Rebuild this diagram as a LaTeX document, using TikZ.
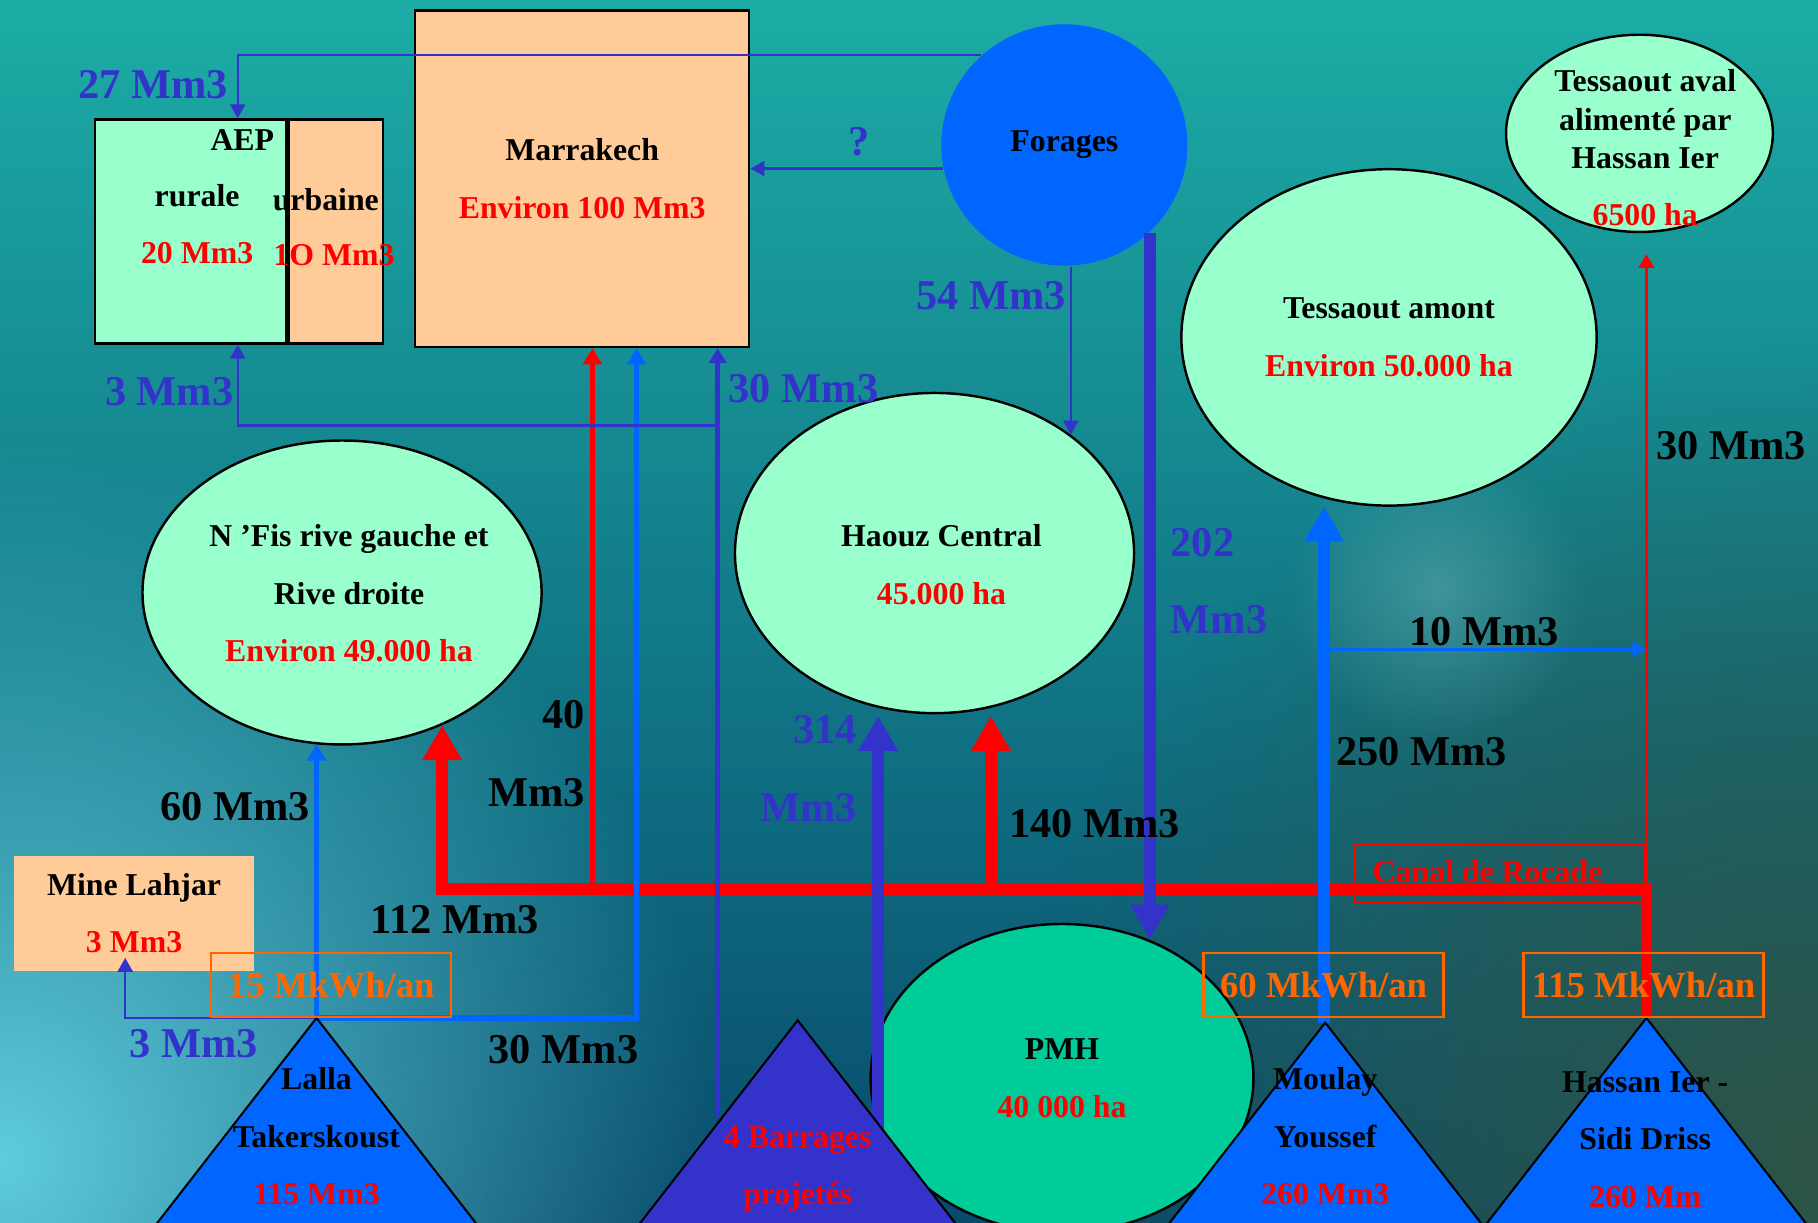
\documentclass[tikz,border=0pt]{standalone}
\usepackage{fontspec}
\setmainfont{Liberation Serif}
\usetikzlibrary{shapes.geometric,arrows.meta,fadings}

\definecolor{flowviolet}{RGB}{51,51,204}
\definecolor{flowblue}{RGB}{0,102,255}
\definecolor{flowred}{RGB}{255,0,0}
\definecolor{kwhorange}{RGB}{255,102,0}
\definecolor{zonegreen}{RGB}{153,255,204}
\definecolor{cityorange}{RGB}{255,204,153}
\definecolor{pmhgreen}{RGB}{0,204,153}
\definecolor{bgtop}{RGB}{28,172,165}
\definecolor{bgmid}{RGB}{36,145,152}
\definecolor{bgbot}{RGB}{8,74,108}
\definecolor{glowcyan}{RGB}{95,205,220}
\definecolor{glowdark}{RGB}{45,85,70}

\tikzfading[name=glow, inner color=transparent!0, outer color=transparent!100]

\begin{document}
\begin{tikzpicture}[x=0.01cm, y=-0.01cm,
% common options for the irrigated zones:
zone/.style = {ellipse, draw=black, line width=0.6pt, fill=zonegreen, align=center,
            inner sep=0, font=\fontsize{7.8}{14.1}\selectfont\bfseries},
% common options for the boxes:
block/.style = {rectangle, draw=black, line width=0.6pt, anchor=north west, align=center,
            inner sep=0, font=\fontsize{7.8}{14.1}\selectfont\bfseries},
% dams:
dam/.style = {draw=black, line width=0.5pt, fill=flowblue},
% texts:
txt/.style = {font=\fontsize{7.8}{14.1}\selectfont\bfseries, align=center, inner sep=0},
qty/.style = {font=\fontsize{10.4}{19}\selectfont\bfseries, inner sep=0},
kwh/.style = {draw=kwhorange, line width=0.6pt, text=kwhorange, anchor=north west,
            font=\fontsize{9}{11}\selectfont\bfseries, minimum width=2.07cm,
            minimum height=0.55cm, inner sep=0},
% flows:
fin/.style = {line width=0.55pt, -{Triangle[length=0.12cm,width=0.13cm]}},
fmid/.style = {line width=1.4pt, -{Triangle[length=0.14cm,width=0.16cm]}},
fbig/.style = {line width=2.85pt, -{Triangle[length=0.3cm,width=0.32cm]}}]
\useasboundingbox (0,0) rectangle (1568,1054);
\clip (0,0) rectangle (1568,1054);
% background
\shade[top color=bgtop, middle color=bgmid, bottom color=bgbot] (0,0) rectangle (1568,1054);
\fill[glowcyan, path fading=glow] (0,1000) circle (620);
\fill[glowdark, path fading=glow] (1568,1000) circle (700);
\fill[white!35!bgmid, path fading=glow, fill opacity=0.45] (1240,510) circle (130);
% zones
\node[zone, fill=flowblue, draw=none, minimum width=2.12cm, minimum height=2.08cm] (forages) at (918,125) {Forages};
\node[zone, minimum width=3.58cm, minimum height=2.90cm] (tam) at (1198,291) {Tessaout amont\\\textcolor{flowred}{Environ 50.000 ha}};
\node[zone, minimum width=2.30cm, minimum height=1.70cm] (tav) at (1414,115) {};
\node[zone, minimum width=3.44cm, minimum height=2.76cm] (haouz) at (806,477) {};
\node[zone, minimum width=3.44cm, minimum height=2.62cm] (nfis) at (295,511) {};
\node[zone, fill=pmhgreen, minimum width=3.30cm, minimum height=2.66cm] (pmh) at (916,930) {PMH\\\textcolor{flowred}{40 000 ha}};
% boxes
\node[block, fill=zonegreen, minimum width=1.65cm, minimum height=1.93cm] (aepr) at (81,102) {};
\node[block, fill=cityorange, minimum width=0.81cm, minimum height=1.93cm] (aepu) at (aepr.north east) {};
\node[block, fill=cityorange, minimum width=2.88cm, minimum height=2.90cm] (marr) at (357,8) {Marrakech\\\textcolor{flowred}{Environ 100 Mm3}};
\node[block, draw=none, fill=cityorange, minimum width=2.07cm, minimum height=0.99cm] (mine) at (11,737) {Mine Lahjar\\\textcolor{flowred}{3 Mm3}};
% points
\coordinate (lalla) at (273,878);
\coordinate (barr) at (688,880);
\coordinate (moulay) at (1143,882);
\coordinate (hassan) at (1420,878);
\coordinate (canal) at (380,767);
\coordinate (c40) at (511,767);
\coordinate (j3) at (619,367);
\coordinate (b30) at (619,963);
\coordinate (b314) at (757,975);
\coordinate (j10) at (1143,560);
\coordinate (aepx) at (205,0);
\coordinate (blx) at (549,0);
\coordinate (minex) at (108,0);
% flows
\draw[line width=2.85pt, flowred, line join=miter, {Triangle[length=0.3cm,width=0.32cm]}-] (nfis.-53) -- (nfis.-53 |- canal) -| (hassan);
\draw[fbig, flowred, shorten >=0.07cm] (haouz.-70 |- canal) -- (haouz.-70);
\draw[fmid, flowred] (c40) -- (c40 |- marr.south);
\draw[line width=0.9pt, flowred, -{Triangle[length=0.12cm,width=0.13cm]}, shorten >=0.18cm] (hassan |- canal) -- (hassan |- tav.south);
\draw[fbig, flowviolet] (forages.-46) -- (forages.-46 |- pmh.58);
\draw[fbig, flowviolet, shorten >=0.07cm] (haouz.-110 |- b314) -- (haouz.-110);
\draw[fbig, flowblue, shorten >=0.07cm] (tam.-112 |- moulay) -- (tam.-112);
\draw[line width=0.6pt, flowblue, -{Triangle[length=0.12cm,width=0.13cm]}] (j10) -- (j10 -| hassan);
\draw[fmid, flowblue] (lalla) -- (lalla |- nfis.-100);
\draw[fmid, flowblue] (lalla) -| (blx |- marr.south);
\draw[fin, flowviolet, shorten >=-0.12cm] (lalla) -| (minex |- mine.south);
\draw[line width=1.1pt, flowviolet, -{Triangle[length=0.13cm,width=0.15cm]}] (b30) -- (b30 |- marr.south);
\draw[fin, flowviolet] (j3) -| (aepx |- aepr.south);
\draw[fin, flowviolet] (forages.133) -| (aepx |- aepr.north);
\draw[fin, flowviolet] (forages.191) -- (forages.191 -| marr.east);
\draw[fin, flowviolet] (forages.south -| haouz.41) -- (haouz.41);
% dams
\foreach \d in {lalla,moulay,hassan}
  \filldraw[dam] (\d) -- ++(-230,296) -- ++(460,0) -- cycle;
\filldraw[dam, fill=flowviolet] (barr) -- ++(-230,296) -- ++(460,0) -- cycle;
% power and canal boxes
\node[kwh] (kwhL) at (181,821) {15 MkWh/an};
\node[kwh] (kwhM) at (1037,821) {60 MkWh/an};
\node[kwh] (kwhH) at (1313,821) {115 MkWh/an};
\node[kwh, draw=flowred, minimum width=2.50cm, minimum height=0.50cm] (rocade) at (1167,727) {};
\node[txt, text=flowred] (rocadeT) at (1283,752) {Canal de Rocade};
% texts
\node[txt] (aepT) at (209,121) {AEP};
\node[txt] (rurT) at (170,169) {rurale};
\node[txt, text=flowred] (rurQ) at (170,218) {20 Mm3};
\node[txt] (urbT) at (281,172) {urbaine};
\node[txt, text=flowred] (urbQ) at (288,220) {1O Mm3};
\node[txt, font=\fontsize{7.8}{9.4}\selectfont\bfseries] (tavT) at (1419,103) {Tessaout aval\\alimenté par\\Hassan Ier};
\node[txt, text=flowred] (tavQ) at (1419,185) {6500 ha};
\node[txt] (nfisT) at (301,512) {N ’Fis rive gauche et\\Rive droite\\\textcolor{flowred}{Environ 49.000 ha}};
\node[txt] (haouzT) at (812,487) {Haouz Central\\\textcolor{flowred}{45.000 ha}};
\node[txt] (lallaT) at (273,980) {Lalla\\Takerskoust\\\textcolor{flowred}{115 Mm3}};
\node[txt, text=flowred] (barrT) at (688,1008) {4 Barrages\\projetés};
\node[txt] (moulayT) at (1143,980) {Moulay\\Youssef\\\textcolor{flowred}{260 Mm3}};
\node[txt] (hassanT) at (1419,983) {Hassan Ier -\\Sidi Driss\\\textcolor{flowred}{260 Mm}};
% quantities
\node[qty, text=flowviolet] (q27) at (132,73) {27 Mm3};
\node[qty, text=flowviolet] (q3a) at (146,338) {3 Mm3};
\node[qty, text=flowviolet] (q30a) at (693,335) {30 Mm3};
\node[qty, text=flowviolet] (q54) at (855,255) {54 Mm3};
\node[qty, text=flowviolet] (qq) at (741,122) {?};
\node[qty, text=flowviolet, align=left, anchor=west] (q202) at (1009,501) {202\\Mm3};
\node[qty, align=right, anchor=east] (q40) at (505,650) {40\\Mm3};
\node[qty, text=flowviolet, align=right, anchor=east] (q314) at (740,663) {314\\Mm3};
\node[qty] (q60) at (203,696) {60 Mm3};
\node[qty] (q112) at (392,793) {112 Mm3};
\node[qty] (q30b) at (486,905) {30 Mm3};
\node[qty, text=flowviolet] (q3b) at (167,900) {3 Mm3};
\node[qty] (q140) at (944,710) {140 Mm3};
\node[qty] (q250) at (1226,648) {250 Mm3};
\node[qty] (q10) at (1280,545) {10 Mm3};
\node[qty] (q30c) at (1493,384) {30 Mm3};
\end{tikzpicture}
\end{document}
